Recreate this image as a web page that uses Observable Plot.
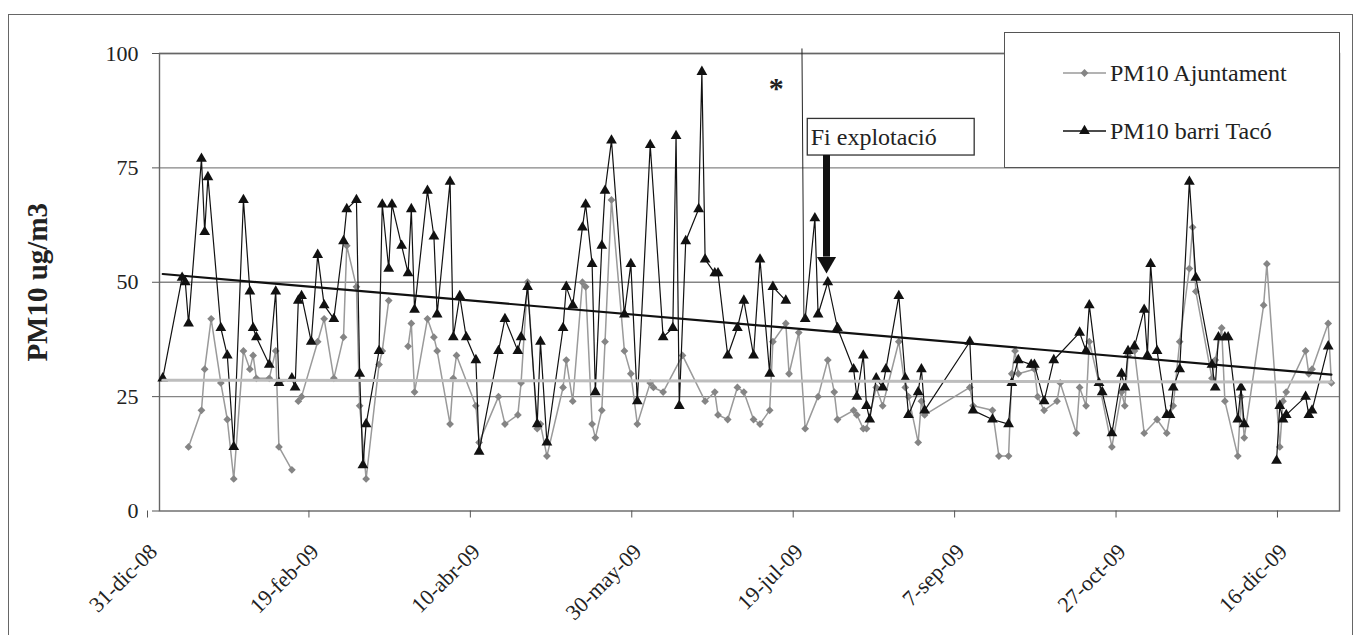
<!DOCTYPE html>
<html><head><meta charset="utf-8">
<script src="https://cdn.jsdelivr.net/npm/d3@7"></script>
<script src="https://cdn.jsdelivr.net/npm/@observablehq/plot@0.6"></script>
<style>
body{margin:0;background:#fff;overflow:hidden;width:1362px;height:635px;}
#frame{position:absolute;left:8px;top:14px;width:1343px;height:700px;border:1.5px solid #666;}
#chart{position:absolute;left:0;top:0;}
#legend{position:absolute;left:1004px;top:32px;width:334px;height:134px;border:1.5px solid #555;background:#fff;}
</style></head><body>
<div id="frame"></div><div id="chart"></div><div id="legend"></div>
<script>
// ---- data (days counted from 31-dic-08) ----
const seriesNames = ["PM10 Ajuntament", "PM10 barri Tacó"];
const yLabel = "PM10 ug/m3";
const tickDays = [0, 50, 100, 150, 200, 250, 300, 350];
const tickLabels = ["31-dic-08", "19-feb-09", "10-abr-09", "30-may-09", "19-jul-09", "7-sep-09", "27-oct-09", "16-dic-09"];
const yTicks = [0, 25, 50, 75, 100];

const ajDays = [9,13,14,16,19,21,23,26,28,29,30,34,36,37,41,42,43,44,49,51,54,57,58,61,62,64,68,69,71,74,77,78,79,83,85,86,90,91,92,98,99,105,107,111,112,114,117,118,120,125,126,128,131,132,134,135,137,138,140,144,146,148,152,153,156,162,169,172,173,176,179,181,184,186,189,190,194,195,198,200,204,207,209,210,215,216,218,219,222,224,229,231,232,235,236,237,251,252,258,260,263,264,265,266,271,272,274,278,279,284,285,287,288,291,295,298,299,300,302,305,309,312,313,314,316,319,320,321,326,327,329,330,334,335,336,342,343,347,348,349,355,356,357,362,363];
const ajValues = [14,22,31,42,28,20,7,35,31,34,29,29,35,14,9,null,24,25,37,42,29,38,58,49,23,7,32,35,46,null,36,41,26,42,38,35,19,29,34,23,15,25,19,21,28,50,18,19,12,27,33,24,50,49,19,16,22,37,68,35,30,19,28,27,26,34,24,26,21,20,27,26,20,19,22,37,41,30,39,18,25,33,26,20,22,21,18,18,27,23,37,27,25,15,24,21,27,23,22,12,12,30,35,30,31,25,22,24,28,17,27,23,37,28,14,26,23,34,35,17,20,17,21,23,37,53,62,48,29,33,40,24,12,25,16,45,54,14,24,26,35,30,31,41,28];

const tacoDays = [1,7,8,9,13,14,15,19,21,23,26,28,29,30,34,36,37,41,42,43,44,47,49,51,54,57,58,61,62,63,64,68,69,71,72,75,77,78,79,83,85,86,90,91,93,95,98,99,105,107,111,112,114,117,118,120,125,126,128,131,132,134,135,137,138,140,144,146,148,152,156,159,160,161,163,167,168,169,172,173,176,179,181,184,186,189,190,194,197,200,203,204,207,210,215,216,218,219,220,222,224,225,229,231,232,235,236,237,251,252,258,263,264,266,270,271,274,277,285,287,288,291,292,295,298,299,300,302,305,306,307,309,312,313,314,316,319,321,326,327,328,330,331,334,335,336,340,346,347,348,349,355,356,357,362];
const tacoValues = [29,51,50,41,77,61,73,40,34,14,68,48,40,38,32,48,28,29,27,46,47,37,56,45,42,59,66,68,30,10,19,35,67,53,67,58,52,66,44,70,60,43,72,38,47,38,33,13,35,42,35,38,49,19,37,15,40,49,45,62,67,54,26,58,70,81,43,54,24,80,38,40,82,23,59,66,96,55,52,52,34,40,46,34,55,30,49,46,null,42,64,43,50,40,31,25,34,23,20,29,27,31,47,29,21,26,31,22,37,22,20,19,28,33,32,32,24,33,39,35,45,28,26,17,30,27,35,36,44,34,54,35,21,21,27,31,72,51,32,27,38,38,38,20,27,19,null,11,23,20,21,25,21,22,36];

// linear trend lines (end points)
const trendDays = [1, 363];
const trendAj = [28.6, 28.2];
const trendTaco = [51.8, 29.8];

// annotations (in data units)
const noteText = "Fi explotació";
const noteBox = {d1: 200.8, d2: 252.5, v1: 77.7, v2: 85.7};
const arrowDay = 206.6, arrowFrom = 77.7, arrowHeadBase = 55.5, arrowHeadCenter = 54.3;
const eventLine = {d1: 199.0, v1: 101.1, d2: 199.6, v2: 42};
const star = {d: 191, v: 92.3, text: "*"};

// ---- build ----
const start = Date.UTC(2008, 11, 31);
const day = d => new Date(start + d * 864e5);
const aj = ajDays.map((d, i) => ({date: day(d), value: ajValues[i]}));
const taco = tacoDays.map((d, i) => ({date: day(d), value: tacoValues[i]}));
const trA = trendDays.map((d, i) => ({date: day(d), value: trendAj[i]}));
const trT = trendDays.map((d, i) => ({date: day(d), value: trendTaco[i]}));
const labelByTime = new Map(tickDays.map((d, i) => [+day(d), tickLabels[i]]));
const serif = "'Liberation Serif', 'DejaVu Serif', serif";

const chart = Plot.plot({
  width: 1362, height: 635,
  marginLeft: 159, marginRight: 23, marginTop: 53, marginBottom: 124.5,
  style: {fontFamily: serif, fontSize: "22px", background: "transparent", color: "#222"},
  x: {type: "utc", domain: [day(0), day(365.5)]},
  y: {domain: [0, 100]},
  marks: [
    Plot.ruleY(yTicks.slice(1), {stroke: "#858585", strokeWidth: 1.4}),
    Plot.frame({stroke: "#666", strokeWidth: 1.4}),
    Plot.axisY({ticks: yTicks, tickSize: 7, tickPadding: 14, label: null, stroke: "#555"}),
    Plot.axisX({ticks: tickDays.map(day), tickFormat: d => labelByTime.get(+d), tickRotate: -45,
      textAnchor: "end", lineAnchor: "top", tickSize: 7, tickPadding: 24, dx: -12, label: null, stroke: "#555"}),
    Plot.text([yLabel], {text: d => d, frameAnchor: "left", textAnchor: "middle", rotate: -90, dx: -122,
      fontSize: 29, fontWeight: "bold", lineAnchor: "middle", fill: "#222"}),
    Plot.line(aj, {x: "date", y: "value", stroke: "#9a9a9a", strokeWidth: 1.5}),
    Plot.dot(aj, {x: "date", y: "value", symbol: "diamond2", r: 3.5, fill: "#858585"}),
    Plot.line(taco, {x: "date", y: "value", stroke: "#111", strokeWidth: 1.2}),
    Plot.dot(taco, {x: "date", y: "value", symbol: "triangle", r: 4, fill: "#111"}),
    Plot.line(trA, {x: "date", y: "value", stroke: "#bdbdbd", strokeWidth: 3}),
    Plot.line(trT, {x: "date", y: "value", stroke: "#111", strokeWidth: 2.2}),
    Plot.link([eventLine], {x1: d => day(d.d1), y1: "v1", x2: d => day(d.d2), y2: "v2", stroke: "#222", strokeWidth: 1}),
    Plot.text([star], {x: d => day(d.d), y: "v", text: "text", fontSize: 30, fontWeight: "bold", lineAnchor: "middle", fill: "#222"}),
    Plot.rect([noteBox], {x1: d => day(d.d1), x2: d => day(d.d2), y1: "v1", y2: "v2", fill: "#fff", stroke: "#333", strokeWidth: 1.3}),
    Plot.text([noteBox], {x: d => day(d.d1), y: d => (d.v1 + d.v2) / 2, text: () => noteText, textAnchor: "start",
      lineAnchor: "middle", dx: 3, fontSize: 24, fill: "#222"}),
    Plot.ruleX([arrowDay], {x: d => day(d), y1: arrowFrom, y2: arrowHeadBase, stroke: "#111", strokeWidth: 7}),
    Plot.dot([arrowDay], {x: d => day(d), y: arrowHeadCenter, symbol: "triangle", r: 7.1, rotate: 180, fill: "#111"})
  ]
});
document.getElementById("chart").append(chart);

// ---- legend ----
const leg = d3.select("#legend").append("svg").attr("width", 334).attr("height", 134)
  .style("font-family", serif).style("font-size", "24px");
const legendItems = [
  {name: seriesNames[0], stroke: "#9a9a9a", fill: "#858585", sym: d3.symbolDiamond2, r: 3.5, cy: 40},
  {name: seriesNames[1], stroke: "#111", fill: "#111", sym: d3.symbolTriangle, r: 4, cy: 98}
];
for (const it of legendItems) {
  leg.append("line").attr("x1", 58).attr("x2", 101).attr("y1", it.cy).attr("y2", it.cy)
    .attr("stroke", it.stroke).attr("stroke-width", 1.5);
  leg.append("path").attr("d", d3.symbol(it.sym, Math.PI * it.r * it.r)())
    .attr("transform", `translate(79.5,${it.cy})`).attr("fill", it.fill);
  leg.append("text").attr("x", 105).attr("y", it.cy).attr("dy", "0.35em").attr("fill", "#222").text(it.name);
}
</script></body></html>
